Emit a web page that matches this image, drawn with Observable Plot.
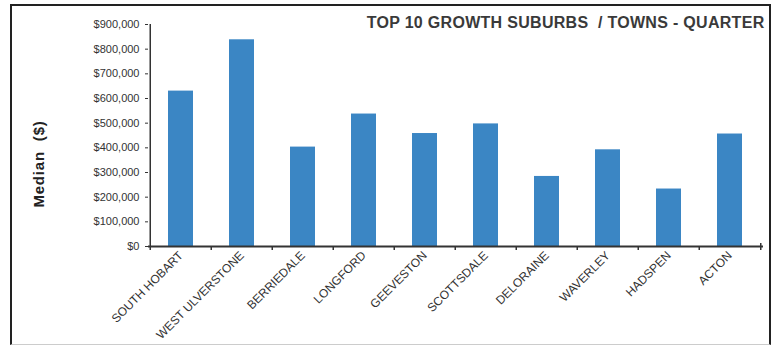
<!DOCTYPE html>
<html>
<head>
<meta charset="utf-8">
<script src="https://cdn.jsdelivr.net/npm/d3@7"></script>
<script src="https://cdn.jsdelivr.net/npm/@observablehq/plot@0.6"></script>
<style>
  html, body { margin: 0; padding: 0; background: #fff; }
  #wrap { position: relative; width: 776px; height: 346px; overflow: hidden;
          font-family: Arial, "Liberation Sans", sans-serif; }
  #border { position: absolute; left: 10px; top: 4px; width: 757px; height: 338px;
            border: 2px solid #222; border-bottom: 1px solid #ccc; pointer-events: none; }
  #ylabel { position: absolute; left: 38px; top: 164px; transform: translate(-50%, -50%) rotate(-90deg);
            font-size: 15px; font-weight: bold; letter-spacing: 0.8px; color: #222; white-space: pre; }
  svg { font-family: Arial, "Liberation Sans", sans-serif; }
</style>
</head>
<body>
<div id="wrap"><div id="border"></div><div id="ylabel"></div></div>
<script>
const suburbs = ["SOUTH HOBART", "WEST ULVERSTONE", "BERRIEDALE", "LONGFORD", "GEEVESTON",
                 "SCOTTSDALE", "DELORAINE", "WAVERLEY", "HADSPEN", "ACTON"];
const medians = [630000, 838000, 403000, 537000, 458000, 497000, 284000, 392000, 233000, 456000];
const yTicks = [0, 100000, 200000, 300000, 400000, 500000, 600000, 700000, 800000, 900000];
const title = "TOP 10 GROWTH SUBURBS  / TOWNS - QUARTER";
const yLabel = "Median  ($)";

const data = suburbs.map((name, i) => ({name, value: medians[i]}));

const W = 776, H = 346, mL = 148, mR = 13, mT = 24, mB = 100;
const step = (W - mL - mR) / suburbs.length;

document.getElementById("ylabel").textContent = yLabel;

const chart = Plot.plot({
  width: W, height: H,
  marginLeft: mL, marginRight: mR, marginTop: mT, marginBottom: mB,
  style: {fontFamily: "Arial, 'Liberation Sans', sans-serif", color: "#333", background: "transparent"},
  x: {domain: suburbs, paddingInner: 0.59, paddingOuter: 0.295, label: null},
  y: {domain: [0, 900000], label: null},
  marks: [
    Plot.barY(data, {x: "name", y: "value", fill: "#3b86c4"}),
    Plot.axisY({ticks: yTicks, tickFormat: d3.format("$,"), tickSize: 3, tickPadding: 6,
                fontSize: 11, stroke: "#333", label: null}),
    Plot.axisX({tickRotate: -45, tickSize: 0, tickPadding: 7, fontSize: 12, label: null}),
    Plot.ruleY([0], {stroke: "#333", strokeWidth: 2}),
    Plot.ruleX(suburbs, {x: d => d, dx: -step / 2, y1: 0, y2: 0, insetBottom: -4, stroke: "#333", strokeWidth: 1.5}),
    Plot.ruleX([suburbs[suburbs.length - 1]], {x: d => d, dx: step / 2, y1: 0, y2: 0, insetBottom: -4, insetTop: -3, stroke: "#333", strokeWidth: 1.5}),
    Plot.ruleX([suburbs[0]], {x: d => d, dx: -step / 2, y1: 0, y2: 900000, stroke: "#333", strokeWidth: 1.5}),
    Plot.text([title], {frameAnchor: "top-right", dy: -2, dx: 1, lineAnchor: "middle",
                        fontSize: 16, fontWeight: "bold", fill: "#3a3a3a"})
  ]
});
chart.style.position = "absolute";
chart.style.left = "0px";
chart.style.top = "0px";
chart.querySelectorAll("text").forEach(t => {
  t.style.whiteSpace = "pre";
  if (t.textContent === title) t.style.letterSpacing = "0.3px";
});
document.getElementById("wrap").prepend(chart);
</script>
</body>
</html>
